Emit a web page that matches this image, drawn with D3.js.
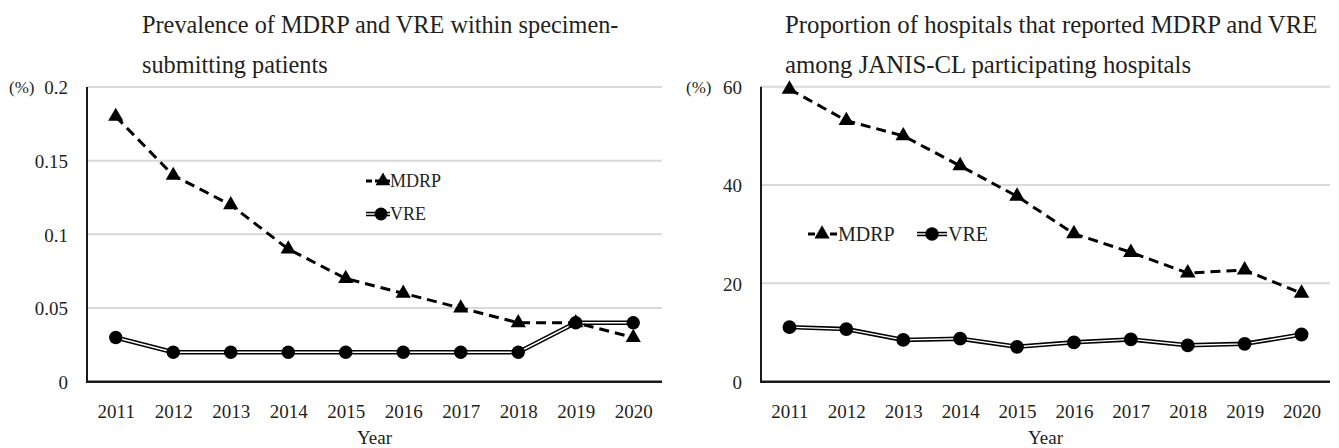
<!DOCTYPE html>
<html>
<head>
<meta charset="utf-8">
<script src="https://cdn.jsdelivr.net/npm/d3@7"></script>
<style>
  html, body { margin: 0; padding: 0; background: #fff; }
  svg { display: block; }
  text { font-family: "Liberation Serif", "DejaVu Serif", serif; fill: #231f20; }
</style>
</head>
<body>
<svg id="chart" width="1339" height="448"></svg>
<script>
// ---- data ----
const years = ["2011","2012","2013","2014","2015","2016","2017","2018","2019","2020"];

const leftTitle = ["Prevalence of MDRP and VRE within specimen-", "submitting patients"];
const leftTicks = [0, 0.05, 0.1, 0.15, 0.2];
const leftTickLabels = ["0", "0.05", "0.1", "0.15", "0.2"];
const leftMDRP = [0.18, 0.14, 0.12, 0.09, 0.07, 0.06, 0.05, 0.04, 0.04, 0.03];
const leftVRE  = [0.03, 0.02, 0.02, 0.02, 0.02, 0.02, 0.02, 0.02, 0.04, 0.04];

const rightTitle = ["Proportion of hospitals that reported MDRP and VRE", "among JANIS-CL participating hospitals"];
const rightTicks = [0, 20, 40, 60];
const rightTickLabels = ["0", "20", "40", "60"];
const rightMDRP = [59.5, 53.1, 50.0, 43.9, 37.7, 30.1, 26.3, 22.1, 22.7, 18.0];
const rightVRE  = [11.1, 10.7, 8.5, 8.75, 7.1, 8.0, 8.6, 7.4, 7.7, 9.6];

const seriesNames = ["MDRP", "VRE"];
const unitLabel = "(%)";
const xTitle = "Year";

const svg = d3.select("#chart");

function drawPanel(cfg) {
  const g = svg.append("g");
  const x = d3.scalePoint().domain(years).range([cfg.x0, cfg.x1]).padding(0.5);
  const y = d3.scaleLinear().domain([0, cfg.ymax]).range([cfg.yBottom, cfg.yTop]);

  // title
  cfg.title.forEach((t, i) => {
    g.append("text").attr("x", cfg.titleX).attr("y", cfg.titleY[i])
      .attr("font-size", cfg.titleSize).text(t);
  });

  // gridlines
  g.append("g").selectAll("line").data(cfg.ticks.filter(d => d > 0)).join("line")
    .attr("x1", cfg.x0).attr("x2", cfg.x1)
    .attr("y1", d => y(d)).attr("y2", d => y(d))
    .attr("stroke", "#d9d9d9").attr("stroke-width", 2);

  // y axis labels
  const yAxis = d3.axisLeft(y).tickValues(cfg.ticks)
    .tickFormat((d, i) => cfg.tickLabels[i]).tickSize(0).tickPadding(0);
  const ya = g.append("g").attr("transform", `translate(${cfg.yLabelX},0)`).call(yAxis);
  ya.select(".domain").remove();
  ya.attr("font-size", null).attr("font-family", null);
  ya.selectAll("text").style("font-family", "'Liberation Serif', serif")
    .style("font-size", cfg.tickSize + "px").attr("fill", "#231f20").attr("dy", "0.35em");

  g.append("text").attr("x", cfg.unitX).attr("y", y(cfg.ymax)).attr("dy", "0.35em")
    .style("font-size", cfg.unitSize + "px").text(unitLabel);

  // x axis labels
  const xAxis = d3.axisBottom(x).tickSize(0).tickPadding(0);
  const xa = g.append("g").attr("transform", `translate(0,${cfg.xLabelY})`).call(xAxis);
  xa.select(".domain").remove();
  xa.attr("font-size", null).attr("font-family", null);
  xa.selectAll("text").style("font-family", "'Liberation Serif', serif")
    .style("font-size", cfg.tickSize + "px").attr("fill", "#231f20").attr("dy", "0.35em");

  g.append("text").attr("x", (cfg.x0 + cfg.x1) / 2).attr("y", cfg.xTitleY)
    .attr("text-anchor", "middle").style("font-size", cfg.xTitleSize + "px").text(xTitle);

  // axis lines
  g.append("line").attr("x1", cfg.x0).attr("x2", cfg.x0)
    .attr("y1", cfg.yTop).attr("y2", cfg.yBottom + 1)
    .attr("stroke", "#1a1a1a").attr("stroke-width", 2);
  g.append("line").attr("x1", cfg.x0 - 1).attr("x2", cfg.x1)
    .attr("y1", cfg.yBottom).attr("y2", cfg.yBottom)
    .attr("stroke", "#1a1a1a").attr("stroke-width", 2.5);

  const line = d3.line().x((d, i) => x(years[i])).y(d => y(d));

  // VRE double line
  g.append("path").datum(cfg.vre).attr("d", line).attr("fill", "none")
    .attr("stroke", "#000").attr("stroke-width", 4.5);
  g.append("path").datum(cfg.vre).attr("d", line).attr("fill", "none")
    .attr("stroke", "#fff").attr("stroke-width", 1.4);

  // MDRP dashed line
  g.append("path").datum(cfg.mdrp).attr("d", line).attr("fill", "none")
    .attr("stroke", "#000").attr("stroke-width", 3).attr("stroke-dasharray", "10,6");

  // markers
  g.append("g").selectAll("path").data(cfg.vre).join("path")
    .attr("transform", (d, i) => `translate(${x(years[i])},${y(d)})`)
    .attr("d", d3.symbol(d3.symbolCircle, cfg.circleSize)).attr("fill", "#000");
  g.append("g").selectAll("path").data(cfg.mdrp).join("path")
    .attr("transform", (d, i) => `translate(${x(years[i])},${y(d)})`)
    .attr("d", d3.symbol(d3.symbolTriangle, cfg.triSize)).attr("fill", "#000");

  // legend
  const L = cfg.legend;
  L.items.forEach((it, k) => {
    const lx = it.x, ly = it.y;
    if (k === 0) {
      g.append("line").attr("x1", lx).attr("x2", lx + it.len).attr("y1", ly).attr("y2", ly)
        .attr("stroke", "#000").attr("stroke-width", 3).attr("stroke-dasharray", L.dash);
    } else {
      g.append("line").attr("x1", lx).attr("x2", lx + it.len).attr("y1", ly).attr("y2", ly)
        .attr("stroke", "#000").attr("stroke-width", 4.5);
      g.append("line").attr("x1", lx).attr("x2", lx + it.len).attr("y1", ly).attr("y2", ly)
        .attr("stroke", "#fff").attr("stroke-width", 1.4);
    }
    g.append("path").attr("transform", `translate(${it.mx},${ly})`)
      .attr("d", d3.symbol(k === 0 ? d3.symbolTriangle : d3.symbolCircle,
                           k === 0 ? L.triSize : L.circleSize)).attr("fill", "#000");
    g.append("text").attr("x", it.tx).attr("y", ly).attr("dy", "0.35em")
      .style("font-size", L.size + "px").text(seriesNames[k]);
  });
}

drawPanel({
  x0: 87, x1: 662, yTop: 87, yBottom: 381.7, ymax: 0.2,
  ticks: leftTicks, tickLabels: leftTickLabels,
  mdrp: leftMDRP, vre: leftVRE,
  title: leftTitle, titleX: 142, titleY: [33, 73], titleSize: 24.3,
  tickSize: 19, unitSize: 17, xTitleSize: 19, yLabelX: 68, unitX: 9, xLabelY: 411, xTitleY: 444,
  circleSize: 140, triSize: 100,
  legend: { dash: "6,3", size: 18, triSize: 95, circleSize: 130,
    items: [{ x: 366, len: 24, mx: 383, tx: 390, y: 181 },
            { x: 366, len: 24, mx: 381, tx: 390, y: 214 }] }
});

drawPanel({
  x0: 761, x1: 1330, yTop: 86.7, yBottom: 381.7, ymax: 60,
  ticks: rightTicks, tickLabels: rightTickLabels,
  mdrp: rightMDRP, vre: rightVRE,
  title: rightTitle, titleX: 785, titleY: [33, 73], titleSize: 24.8,
  tickSize: 19, unitSize: 17, xTitleSize: 19, yLabelX: 742, unitX: 686, xLabelY: 411, xTitleY: 444,
  circleSize: 150, triSize: 105,
  legend: { dash: "7,4", size: 20, triSize: 100, circleSize: 140,
    items: [{ x: 808, len: 29, mx: 822, tx: 838, y: 234 },
            { x: 917, len: 30, mx: 932, tx: 948, y: 234 }] }
});
</script>
</body>
</html>
